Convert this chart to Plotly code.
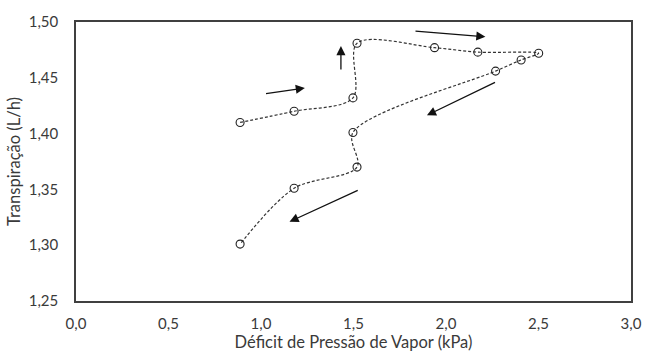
import plotly.graph_objects as go

# Data
dpv = [0.887, 1.179, 1.497, 1.519, 1.938, 2.172, 2.501, 2.406, 2.268, 1.497, 1.519, 1.179, 0.887]
transp = [1.410, 1.420, 1.432, 1.481, 1.477, 1.473, 1.472, 1.466, 1.456, 1.401, 1.370, 1.351, 1.301]

# Direction arrows (tail x, tail y, head x, head y) in data units
arrow_tail_x = [1.019, 1.432, 1.827, 2.273, 1.531]
arrow_tail_y = [1.4356, 1.456, 1.492, 1.4466, 1.3497]
arrow_head_x = [1.237, 1.432, 2.213, 1.897, 1.154]
arrow_head_y = [1.4408, 1.4784, 1.4868, 1.4164, 1.321]

x_ticks = [0.0, 0.5, 1.0, 1.5, 2.0, 2.5, 3.0]
y_ticks = [1.25, 1.30, 1.35, 1.40, 1.45, 1.50]

font_family = "Lato, Carlito, Calibri, sans-serif"
ink = "#3a3a3a"

fig = go.Figure()
fig.add_trace(go.Scatter(
    x=dpv, y=transp, mode="lines+markers",
    line=dict(color="#333333", width=1.2, dash="3px,2px", shape="spline", smoothing=0.9),
    marker=dict(symbol="circle-open", size=8, color="#222222", line=dict(width=1.1)),
    showlegend=False, hoverinfo="x+y",
))

for tx, ty, hx, hy in zip(arrow_tail_x, arrow_tail_y, arrow_head_x, arrow_head_y):
    fig.add_annotation(
        x=hx, y=hy, ax=tx, ay=ty, xref="x", yref="y", axref="x", ayref="y",
        text="", showarrow=True, arrowhead=2, arrowsize=1.4, arrowwidth=1.3,
        arrowcolor="#111111",
    )

fig.update_layout(
    width=654, height=357,
    margin=dict(l=76, r=13, t=14, b=53),
    paper_bgcolor="white", plot_bgcolor="white",
    separators=", ",
    font=dict(family=font_family, size=15, color=ink),
    xaxis=dict(
        range=[0, 3], tickvals=x_ticks, tickformat=".1f",
        showgrid=False, zeroline=False,
        showline=True, linecolor="#404040", linewidth=1.5, mirror=True,
        ticks="", ticklen=0, ticklabelstandoff=8,
        title=dict(text="Déficit de Pressão de Vapor (kPa)", standoff=2,
                   font=dict(family=font_family, size=16.5, color=ink)),
        tickfont=dict(family=font_family, size=15, color=ink),
    ),
    yaxis=dict(
        range=[1.25, 1.50], tickvals=y_ticks, tickformat=".2f",
        showgrid=False, zeroline=False,
        showline=True, linecolor="#404040", linewidth=1.5, mirror=True,
        ticks="", ticklen=0, ticklabelstandoff=13,
        title=dict(text="Transpiração (L/h)", standoff=4,
                   font=dict(family=font_family, size=16.5, color=ink)),
        tickfont=dict(family=font_family, size=15, color=ink),
    ),
)

fig.write_html("out.html")
